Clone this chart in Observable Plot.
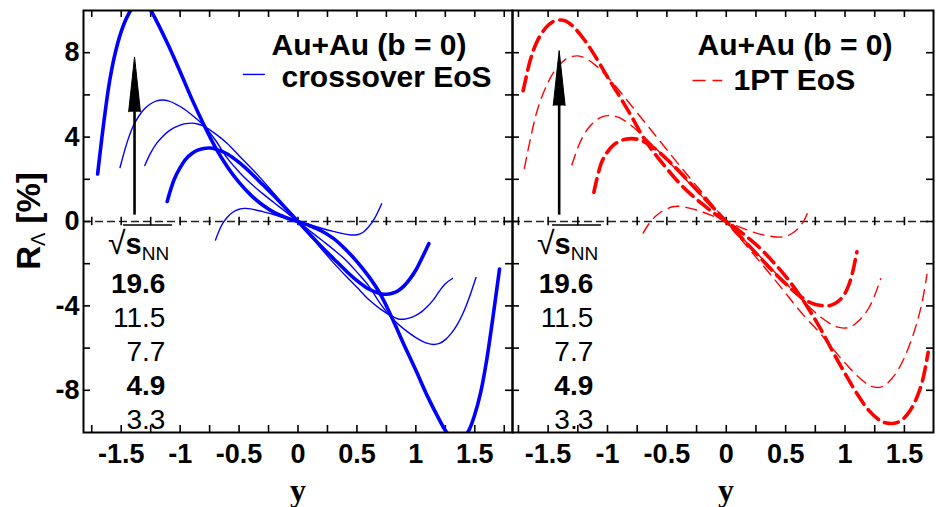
<!DOCTYPE html>
<html><head><meta charset="utf-8">
<script src="https://cdn.jsdelivr.net/npm/d3@7"></script>
<script src="https://cdn.jsdelivr.net/npm/@observablehq/plot@0.6"></script>
<style>
body{margin:0;background:#fff;}
#wrap{position:relative;width:936px;height:507px;overflow:hidden;background:#fff;}
#wrap svg{position:absolute;top:0;}
</style></head><body><div id="wrap"></div>
<script>
// ---------- data ----------
const xTicks = [-1.75,-1.5,-1.25,-1,-0.75,-0.5,-0.25,0,0.25,0.5,0.75,1,1.25,1.5,1.75];
const xTickLabelValues = [-1.5,-1,-0.5,0,0.5,1,1.5];
const xTickLabels = ["-1.5","-1","-0.5","0","0.5","1","1.5"];
const yTicks = [-8,-6,-4,-2,0,2,4,6,8];
const yTickLabelValues = [-8,-4,0,4,8];
const yTickLabels = ["-8","-4","0","4","8"];
const energies = ["19.6","11.5","7.7","4.9","3.3"];
const boldEnergies = ["19.6","4.9"];

// crossover EoS (blue, solid)
const cross196_y = [-1.70,-1.65,-1.60,-1.55,-1.50,-1.45,-1.40,-1.35,-1.30,-1.25,-1.20,-1.10,-1.00,-0.90,-0.80,-0.70,-0.60,-0.50,-0.40,-0.30,-0.20,-0.10,0,0.10,0.20,0.30,0.40,0.50,0.60,0.70,0.80,0.90,1.00,1.10,1.20,1.25,1.30,1.35,1.40,1.45,1.50,1.55,1.60,1.65,1.71];
const cross196_R = [2.25,4.6,6.6,8.0,9.0,9.7,10.15,10.35,10.3,10.0,9.5,8.35,7.1,5.8,4.6,3.5,2.6,1.85,1.25,0.78,0.42,0.18,0,-0.2,-0.45,-0.8,-1.3,-1.9,-2.6,-3.45,-4.6,-5.85,-7.05,-8.3,-9.4,-9.9,-10.25,-10.4,-10.3,-9.9,-9.15,-8.1,-6.6,-4.7,-2.25];
const cross115_y = [-1.51,-1.45,-1.40,-1.35,-1.30,-1.25,-1.20,-1.15,-1.10,-1.00,-0.90,-0.80,-0.70,-0.60,-0.50,-0.40,-0.30,-0.20,-0.10,0,0.10,0.20,0.30,0.40,0.50,0.60,0.70,0.80,0.90,1.00,1.10,1.15,1.20,1.25,1.30,1.35,1.40,1.45,1.51];
const cross115_R = [2.56,3.75,4.5,5.0,5.35,5.58,5.72,5.76,5.72,5.45,5.05,4.55,3.85,3.0,2.35,1.8,1.32,0.88,0.44,0,-0.44,-0.88,-1.32,-1.8,-2.4,-3.05,-3.9,-4.6,-5.1,-5.5,-5.78,-5.83,-5.78,-5.6,-5.3,-4.9,-4.35,-3.65,-2.65];
const cross77_y = [-1.30,-1.25,-1.20,-1.15,-1.10,-1.05,-1.00,-0.95,-0.90,-0.85,-0.80,-0.70,-0.60,-0.50,-0.40,-0.30,-0.20,-0.10,0,0.10,0.20,0.30,0.40,0.50,0.60,0.70,0.80,0.85,0.90,0.95,1.00,1.05,1.10,1.15,1.20,1.25,1.31];
const cross77_R = [2.65,3.25,3.7,4.02,4.27,4.45,4.57,4.64,4.66,4.62,4.52,4.15,3.7,3.12,2.55,1.95,1.3,0.65,0,-0.65,-1.3,-1.95,-2.55,-3.12,-3.7,-4.15,-4.5,-4.62,-4.63,-4.57,-4.45,-4.27,-4.02,-3.7,-3.3,-2.95,-2.7];
const cross49_y = [-1.11,-1.05,-1.00,-0.95,-0.90,-0.85,-0.80,-0.75,-0.70,-0.60,-0.50,-0.40,-0.30,-0.20,-0.10,0,0.10,0.20,0.30,0.40,0.50,0.60,0.70,0.75,0.80,0.85,0.90,0.95,1.00,1.05,1.11];
const cross49_R = [0.95,2.0,2.55,2.97,3.22,3.38,3.46,3.48,3.43,3.2,2.8,2.3,1.75,1.2,0.6,0,-0.6,-1.2,-1.75,-2.3,-2.8,-3.2,-3.42,-3.45,-3.4,-3.28,-3.05,-2.72,-2.3,-1.75,-1.05];
const cross33_y = [-0.70,-0.65,-0.60,-0.55,-0.50,-0.45,-0.40,-0.30,-0.20,-0.10,0,0.10,0.20,0.30,0.40,0.45,0.50,0.55,0.60,0.65,0.71];
const cross33_R = [-0.88,-0.2,0.2,0.45,0.58,0.62,0.6,0.47,0.32,0.15,0,-0.15,-0.32,-0.47,-0.6,-0.64,-0.63,-0.52,-0.25,0.15,0.84];

// 1PT EoS (red, dashed)
const pt196_y = [-1.71,-1.65,-1.60,-1.55,-1.50,-1.45,-1.40,-1.35,-1.30,-1.20,-1.10,-1.00,-0.90,-0.80,-0.70,-0.60,-0.50,-0.40,-0.30,-0.20,-0.10,0,0.10,0.20,0.30,0.40,0.50,0.60,0.70,0.80,0.90,1.00,1.10,1.20,1.30,1.35,1.40,1.45,1.50,1.55,1.60,1.65,1.70];
const pt196_R = [6.2,7.65,8.45,8.95,9.3,9.5,9.55,9.5,9.3,8.65,7.8,6.85,5.95,5.0,4.0,3.2,2.5,1.85,1.3,0.82,0.38,0,-0.4,-0.85,-1.35,-1.95,-2.6,-3.35,-4.2,-5.15,-6.2,-7.2,-8.15,-8.95,-9.45,-9.55,-9.57,-9.5,-9.3,-8.95,-8.4,-7.6,-6.2];
const pt115_y = [-1.70,-1.65,-1.60,-1.55,-1.50,-1.45,-1.40,-1.35,-1.30,-1.25,-1.20,-1.10,-1.00,-0.90,-0.80,-0.70,-0.60,-0.50,-0.40,-0.30,-0.20,-0.10,0,0.10,0.20,0.30,0.40,0.50,0.60,0.70,0.80,0.90,1.00,1.10,1.20,1.25,1.30,1.35,1.40,1.45,1.50,1.55,1.60,1.65,1.69];
const pt115_R = [2.52,3.9,5.1,5.95,6.6,7.1,7.45,7.7,7.82,7.85,7.78,7.4,6.85,6.2,5.5,4.8,4.1,3.4,2.7,2.02,1.35,0.68,0,-0.68,-1.35,-2.02,-2.7,-3.4,-4.1,-4.75,-5.35,-6.05,-6.7,-7.3,-7.75,-7.85,-7.85,-7.7,-7.4,-7.0,-6.45,-5.75,-4.9,-3.8,-2.5];
const pt77_y = [-1.30,-1.25,-1.20,-1.15,-1.10,-1.05,-1.00,-0.95,-0.90,-0.80,-0.70,-0.60,-0.50,-0.40,-0.30,-0.20,-0.10,0,0.10,0.20,0.30,0.40,0.50,0.60,0.70,0.80,0.90,0.95,1.00,1.05,1.10,1.15,1.20,1.25,1.30];
const pt77_R = [2.68,3.5,4.1,4.5,4.78,4.95,5.02,5.0,4.92,4.55,4.05,3.5,2.92,2.35,1.75,1.17,0.58,0,-0.58,-1.17,-1.75,-2.35,-2.92,-3.5,-4.05,-4.55,-4.92,-5.02,-5.05,-4.98,-4.78,-4.5,-4.1,-3.5,-2.71];
const pt49_y = [-1.115,-1.05,-1.00,-0.95,-0.90,-0.85,-0.80,-0.75,-0.70,-0.60,-0.50,-0.40,-0.30,-0.20,-0.10,0,0.10,0.20,0.30,0.40,0.50,0.60,0.70,0.75,0.80,0.85,0.90,0.95,1.00,1.05,1.10];
const pt49_R = [1.38,2.8,3.3,3.62,3.8,3.9,3.93,3.9,3.8,3.45,2.95,2.4,1.8,1.2,0.6,0,-0.6,-1.2,-1.8,-2.4,-2.95,-3.45,-3.82,-3.93,-3.98,-4.0,-3.93,-3.75,-3.4,-2.7,-1.44];
const pt33_y = [-0.70,-0.65,-0.60,-0.55,-0.50,-0.45,-0.40,-0.30,-0.20,-0.10,0,0.10,0.20,0.30,0.40,0.45,0.50,0.55,0.60,0.65,0.69];
const pt33_R = [-0.55,-0.1,0.22,0.45,0.6,0.7,0.72,0.62,0.45,0.23,0,-0.23,-0.45,-0.62,-0.72,-0.74,-0.7,-0.58,-0.35,0.0,0.49];

// annotation anchors (data units)
const arrowLeft = {x: -1.387, from: 0.3, to: 7.8};
const arrowRight = {x: -1.407, from: 0.3, to: 8.1};
const swatchLeft = {x1: -0.464, x2: -0.277, y: 6.97};
const swatchRight = {x1: -0.28, x2: -0.03, y: 6.68};

// ---------- drawing ----------
const H = 507, MT = 10, MB = 75;
const FONT = "Liberation Sans, Arial, sans-serif";
const zip = (xs, rs, e) => xs.map((x, i) => ({y: x, R: rs[i], e}));

function panel(o) {
  const frameH = H - MT - MB;
  const frameW = o.width - o.marginLeft - o.marginRight;
  const inDom = d => d >= o.xDomain[0] - 1e-9 && d <= o.xDomain[1] + 1e-9;
  const xt = xTicks.filter(inDom);
  const tk = {stroke: "black", strokeWidth: 1.6};
  const marks = [
    Plot.ruleY([0], {stroke: "#222", strokeWidth: 1.5, strokeDasharray: "8,4"}),
    Plot.ruleX(xt, {x: d => d, y1: -0.2, y2: 0.2, ...tk}),
    Plot.ruleX(xt, {x: d => d, insetTop: frameH - 7, ...tk}),
    Plot.ruleX(xt, {x: d => d, insetBottom: frameH - 7, ...tk}),
    Plot.ruleY(yTicks, {y: d => d, insetRight: frameW - 7, ...tk}),
    Plot.ruleY(yTicks, {y: d => d, insetLeft: frameW - 7, ...tk})
  ];
  for (const c of o.curves) {
    const thick = boldEnergies.includes(c.e);
    marks.push(Plot.line(zip(c.x, c.r, c.e), {
      x: "y", y: "R", stroke: o.color, strokeWidth: thick ? 3.6 : 1.4,
      strokeDasharray: o.dashed ? (thick ? "14,7" : "11,7") : null,
      curve: "catmull-rom", clip: true
    }));
  }
  // arrow
  const a = o.arrow, headBase = a.to - 2.6, hw = 0.05;
  marks.push(Plot.ruleX([a], {x: "x", y1: "from", y2: d => headBase, stroke: "black", strokeWidth: 2.6}));
  marks.push(Plot.line([{x: a.x - hw, y: headBase}, {x: a.x, y: a.to}, {x: a.x + hw, y: headBase}],
    {x: "x", y: "y", fill: "black", stroke: "black", strokeWidth: 1}));
  // legend swatch
  const s = o.swatch;
  marks.push(Plot.ruleY([s], {y: "y", x1: "x1", x2: "x2", stroke: o.color, strokeWidth: 1.4,
    strokeDasharray: o.dashed ? "13,7" : null}));
  // titles
  marks.push(Plot.text(["Au+Au (b = 0)"], {text: d => d, frameAnchor: "top-left", dx: o.titleDx, dy: 35,
    textAnchor: "start", lineAnchor: "middle", fontSize: 30, fontWeight: "bold", fontFamily: FONT}));
  marks.push(Plot.text([o.legendLabel], {text: d => d, frameAnchor: "top-left", dx: o.legDx, dy: o.legDy,
    textAnchor: "start", lineAnchor: "middle", fontSize: 30, fontWeight: "bold", fontFamily: FONT}));
  // energy labels
  const eY = (d) => -2.95 - 1.61 * energies.indexOf(d);
  marks.push(Plot.text(energies.filter(d => boldEnergies.includes(d)), {x: d => o.labelX, y: eY, text: d => d,
    textAnchor: "end", fontSize: 28, fontWeight: "bold", fontFamily: FONT}));
  marks.push(Plot.text(energies.filter(d => !boldEnergies.includes(d)), {x: d => o.labelX, y: eY, text: d => d,
    textAnchor: "end", fontSize: 28, fontWeight: "normal", fontFamily: FONT}));
  // axis tick labels
  marks.push(Plot.text(xTickLabelValues, {x: d => d, text: (d, i) => xTickLabels[i], frameAnchor: "bottom",
    lineAnchor: "top", dy: 11, fontSize: 27, fontWeight: "bold", fontFamily: FONT}));
  if (o.yLabels) {
    marks.push(Plot.text(yTickLabelValues, {y: d => d, text: (d, i) => yTickLabels[i], frameAnchor: "left",
      textAnchor: "end", lineAnchor: "middle", dx: -4, fontSize: 27, fontWeight: "bold", fontFamily: FONT}));
  }
  marks.push(Plot.text(["y"], {text: d => d, frameAnchor: "bottom", lineAnchor: "bottom", dy: 68, dx: o.yDx,
    fontSize: 32, fontWeight: "bold", fontFamily: "Liberation Serif, serif"}));
  marks.push(Plot.frame({stroke: "black", strokeWidth: 2}));

  const svg = Plot.plot({
    width: o.width, height: H, marginTop: MT, marginBottom: MB,
    marginLeft: o.marginLeft, marginRight: o.marginRight,
    x: {domain: o.xDomain, axis: null},
    y: {domain: [-10, 10], axis: null},
    style: {background: "transparent", overflow: "visible", fontFamily: FONT},
    marks
  });
  svg.style.left = o.left + "px";
  // sqrt(s_NN) label
  const g = d3.select(svg).append("g").attr("font-family", FONT).attr("fill", "black")
    .attr("text-anchor", "start");
  const t = g.append("text").attr("x", o.sqrtX).attr("y", 254).attr("text-anchor", "start");
  t.append("tspan").attr("font-size", 32).text("√");
  t.append("tspan").attr("font-size", 29).attr("font-weight", "bold").text("s");
  t.append("tspan").attr("font-size", 19).attr("dy", 6).text("NN");
  g.append("line").attr("x1", o.sqrtX + 15).attr("x2", o.sqrtX + 64).attr("y1", 225).attr("y2", 225)
    .attr("stroke", "black").attr("stroke-width", 1.6);
  return svg;
}

const wrap = document.getElementById("wrap");
const left = panel({
  left: 0, width: 514, marginLeft: 83, marginRight: 2, xDomain: [-1.82, 1.82],
  color: "#0000ff", dashed: false, yLabels: true,
  curves: [
    {e: "19.6", x: cross196_y, r: cross196_R}, {e: "11.5", x: cross115_y, r: cross115_R},
    {e: "7.7", x: cross77_y, r: cross77_R}, {e: "4.9", x: cross49_y, r: cross49_R},
    {e: "3.3", x: cross33_y, r: cross33_R}
  ],
  arrow: arrowLeft, swatch: swatchLeft, legendLabel: "crossover EoS",
  titleDx: 188, legDx: 198, legDy: 67, labelX: -1.125, sqrtX: 108, yDx: 0
});
const right = panel({
  left: 510, width: 426, marginLeft: 2, marginRight: 3, xDomain: [-1.80, 1.745],
  color: "#ff0000", dashed: true, yLabels: false,
  curves: [
    {e: "19.6", x: pt196_y, r: pt196_R}, {e: "11.5", x: pt115_y, r: pt115_R},
    {e: "7.7", x: pt77_y, r: pt77_R}, {e: "4.9", x: pt49_y, r: pt49_R},
    {e: "3.3", x: pt33_y, r: pt33_R}
  ],
  arrow: arrowRight, swatch: swatchRight, legendLabel: "1PT EoS",
  titleDx: 185, legDx: 221, legDy: 70, labelX: -1.12, sqrtX: 27, yDx: 3
});
wrap.appendChild(left);
wrap.appendChild(right);

// y-axis title R_Λ [%]
const yl = d3.select(left).append("text")
  .attr("transform", "translate(40,221) rotate(-90)")
  .attr("text-anchor", "middle").attr("font-family", FONT)
  .attr("font-size", 33).attr("font-weight", "bold").attr("fill", "black");
yl.append("tspan").text("R");
yl.append("tspan").attr("font-size", 20).attr("font-weight", "normal").attr("dy", 5).text("Λ");
yl.append("tspan").attr("dy", -5).text(" [%]");
</script></body></html>
